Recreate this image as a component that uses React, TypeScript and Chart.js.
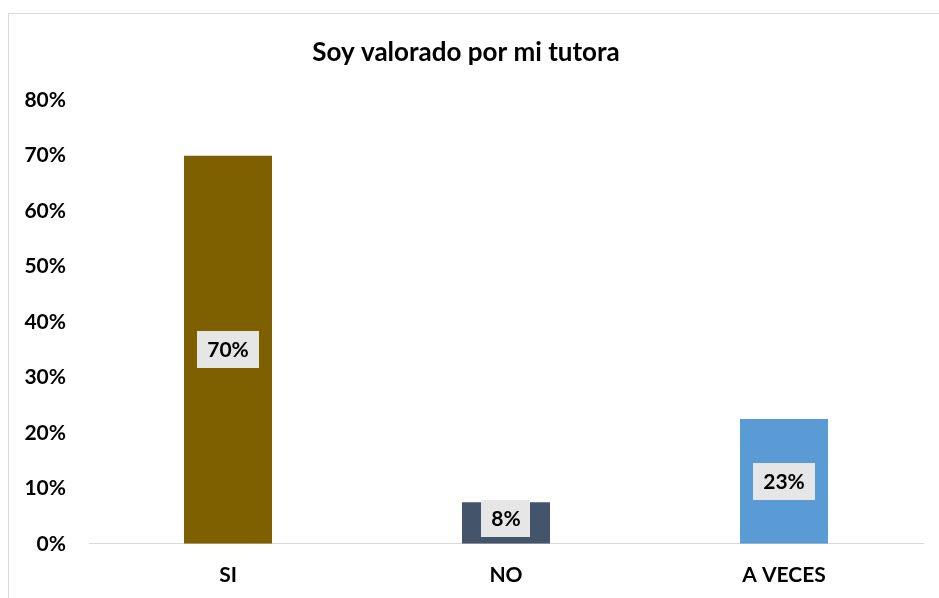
import React, { useEffect, useRef } from "react";
import { Chart, registerables } from "chart.js";

Chart.register(...registerables);

const categories = ["SI", "NO", "A VECES"];
const values = [0.7, 0.075, 0.225];
const valueLabels = ["70%", "8%", "23%"];
const barColors = ["#7F6000", "#44546A", "#5B9BD5"];
const titleText = "Soy valorado por mi tutora";
const yMin = 0;
const yMax = 0.8;
const yStep = 0.1;

const FONT = "Lato, 'Open Sans', sans-serif";

const labelPlugin = {
  id: "boxLabels",
  afterDatasetsDraw(chart: any) {
    const ctx = chart.ctx;
    const meta = chart.getDatasetMeta(0);
    ctx.save();
    ctx.font = `bold 21px ${FONT}`;
    ctx.textAlign = "center";
    ctx.textBaseline = "middle";
    meta.data.forEach((bar: any, i: number) => {
      const text = valueLabels[i];
      const tw = ctx.measureText(text).width;
      const w = tw + 20;
      const h = 37;
      const base = bar.base;
      let cy = (bar.y + base) / 2;
      cy = Math.min(cy, base - 7 - h / 2);
      ctx.fillStyle = "#E7E6E6";
      ctx.fillRect(Math.round(bar.x - w / 2), Math.round(cy - h / 2), Math.round(w), h);
      ctx.fillStyle = "#000000";
      ctx.fillText(text, bar.x, cy + 1);
    });
    ctx.restore();
  },
};

export default function App() {
  const canvasRef = useRef<HTMLCanvasElement | null>(null);

  useEffect(() => {
    if (!canvasRef.current) return;
    const chart = new Chart(canvasRef.current, {
      type: "bar",
      data: {
        labels: categories,
        datasets: [
          {
            data: values,
            backgroundColor: barColors,
            borderWidth: 0,
            barPercentage: 0.3165,
            categoryPercentage: 1,
          },
        ],
      },
      options: {
        animation: false,
        responsive: true,
        maintainAspectRatio: false,
        layout: { padding: { left: 0, right: 17, top: 0, bottom: -8 } },
        plugins: {
          legend: { display: false },
          tooltip: { enabled: false },
          title: {
            display: true,
            text: titleText,
            color: "#000000",
            font: { family: FONT, size: 26, weight: "bold" },
            padding: { top: 23, bottom: 32 },
          },
        },
        scales: {
          x: {
            grid: { display: false, drawTicks: false },
            border: { display: true, color: "#D9D9D9", width: 1 },
            ticks: {
              color: "#000000",
              font: { family: FONT, size: 21, weight: "bold" },
              padding: 19,
              maxRotation: 0,
            },
          },
          y: {
            min: yMin,
            max: yMax,
            grid: { display: false, drawTicks: false },
            border: { display: false },
            afterFit: (scale: any) => {
              scale.width = 80;
            },
            ticks: {
              stepSize: yStep,
              color: "#000000",
              font: { family: FONT, size: 21, weight: "bold" },
              padding: 23,
              callback: (v: any) => `${Math.round(Number(v) * 100)}%`,
            },
          },
        },
      },
      plugins: [labelPlugin],
    });
    return () => chart.destroy();
  }, []);

  return (
    <div
      style={{
        position: "fixed",
        left: 8,
        top: 13,
        width: 931,
        height: 585,
        borderLeft: "1px solid #D9D9D9",
        borderTop: "1px solid #D9D9D9",
        background: "#FFFFFF",
      }}
    >
      <canvas ref={canvasRef} />
    </div>
  );
}
